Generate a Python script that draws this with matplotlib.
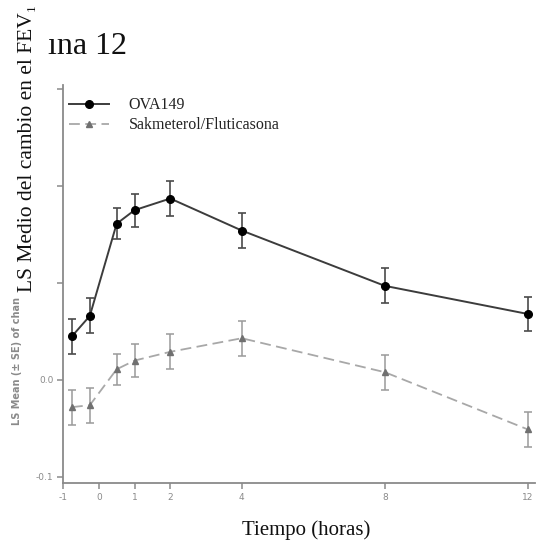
import matplotlib
matplotlib.use("Agg")
import matplotlib.pyplot as plt
from matplotlib.lines import Line2D

# ---- data ----
times = [-0.75, -0.25, 0.5, 1, 2, 4, 8, 12]
ova_mean = [0.045, 0.066, 0.161, 0.175, 0.187, 0.154, 0.097, 0.068]
ova_se = [0.018, 0.018, 0.016, 0.017, 0.018, 0.018, 0.018, 0.018]
sal_mean = [-0.028, -0.026, 0.011, 0.020, 0.029, 0.043, 0.008, -0.051]
sal_se = [0.018, 0.018, 0.016, 0.017, 0.018, 0.018, 0.018, 0.018]
xticks = [-1, 0, 1, 2, 4, 8, 12]
yticks = [-0.1, 0.0, 0.1, 0.2, 0.3]
ytick_labels = ["-0.1", "0.0", "", "", ""]
series_names = ["OVA149", "Sakmeterol/Fluticasona"]

W, H = 541, 544
fig = plt.figure(figsize=(W / 100, H / 100), dpi=100)
ax = fig.add_axes([63 / W, (H - 483) / H, 472 / W, 398 / H])

serif = ["Liberation Serif", "DejaVu Serif"]

ova_style = dict(color="#3c3c3c", lw=1.4, marker="o", ms=5.5,
                 mfc="black", mec="black")
sal_style = dict(color="#a8a8a8", lw=1.3, ls=(0, (6, 3)), marker="^",
                 ms=4.5, mfc="#707070", mec="#707070")

ax.errorbar(times, ova_mean, yerr=ova_se, ecolor="#4a4a4a", elinewidth=1.2,
            capsize=3, capthick=1.2, zorder=3, **ova_style)
ax.errorbar(times, sal_mean, yerr=sal_se, ecolor="#9a9a9a", elinewidth=1.1,
            capsize=3, capthick=1.1, zorder=2, **sal_style)

ax.set_xlim(-1.0, 12.2)
ax.set_ylim(-0.1062, 0.304)
ax.set_xticks(xticks)
ax.set_xticklabels([str(t) for t in xticks])
ax.set_yticks(yticks)
ax.set_yticklabels(ytick_labels)
for s in ["top", "right"]:
    ax.spines[s].set_visible(False)
for s in ["left", "bottom"]:
    ax.spines[s].set_color("#8a8a8a")
    ax.spines[s].set_linewidth(1.3)
ax.tick_params(axis="both", colors="#8a8a8a", labelcolor="#8a8a8a",
               labelsize=6.5, length=4, width=1.1, direction="out")
ax.tick_params(axis="y", pad=3)

handles = [Line2D([], [], **ova_style), Line2D([], [], **sal_style)]
leg = ax.legend(handles, series_names, loc="upper left",
                bbox_to_anchor=(0.0, 0.985), frameon=False,
                prop={"family": serif, "size": 11.5}, handlelength=2.5,
                handletextpad=1.2, labelspacing=0.25, numpoints=1,
                borderaxespad=0.0)
for t in leg.get_texts():
    t.set_color("#222222")

# x label
fig.text(306 / W, (H - 530) / H, "Tiempo (horas)", ha="center", va="center",
         family=serif, fontsize=15, color="#111111")

# title (visible part; left of it is hidden in the reference)
fig.text(48 / W, (H - 54) / H, "\u0131na 12", ha="left", va="baseline",
         family=serif, fontsize=23, color="#111111")

# original small y label (visible part)
fig.text(17 / W, (H - 425) / H, "LS Mean (\u00b1 SE) of chan",
         rotation=90, ha="center", va="bottom", fontsize=7,
         fontweight="bold", color="#8a8a8a")

# overlay y label
fig.text(28 / W, (H - 292) / H, "LS Medio del cambio en el FEV\u2081",
         rotation=90, ha="center", va="bottom", family=serif, fontsize=15.5,
         color="#111111")

fig.savefig("out.png", dpi=100)
